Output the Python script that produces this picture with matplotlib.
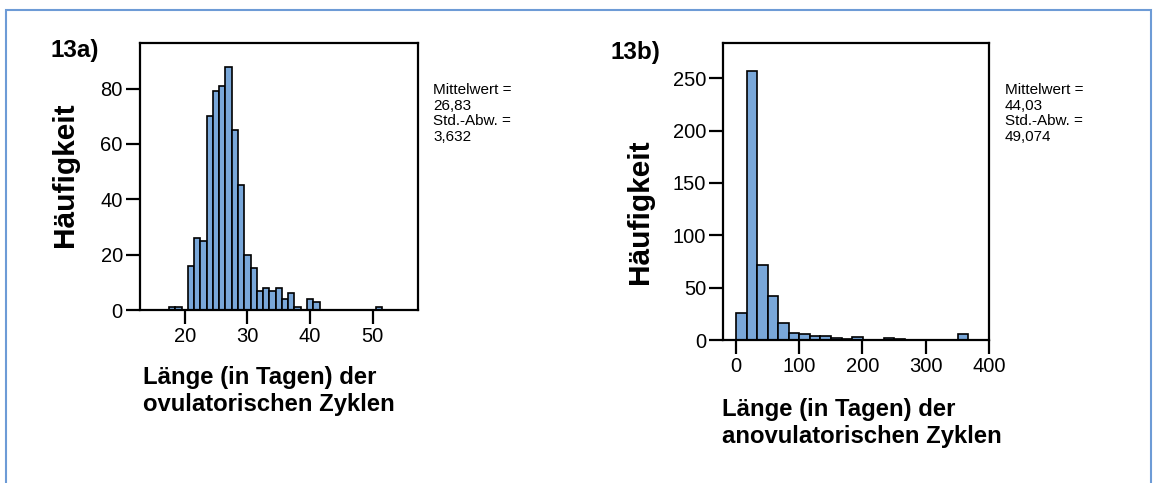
import matplotlib.pyplot as plt
from matplotlib.patches import Rectangle

plt.rcParams["font.family"] = ["Liberation Sans", "DejaVu Sans"]

# -----------------------------
# Data
# -----------------------------
# 13a) ovulatory cycles: one bar per day
ovu_days = [18, 19, 21, 22, 23, 24, 25, 26, 27, 28, 29, 30, 31, 32, 33, 34,
            35, 36, 37, 38, 40, 41, 51]
ovu_counts = [1, 1, 16, 26, 25, 70, 79, 81, 88, 65, 45, 20, 15, 7, 8, 7,
              8, 4, 6, 1, 4, 3, 1]

# 13b) anovulatory cycles: SPSS bins of about 16.7 days, starting at 0
anov_bin_start = 0.0
anov_bin_width = 16.7
anov_counts = [26, 257, 72, 42, 16, 7, 6, 4, 4, 2, 1, 3, 0, 0, 2, 1,
               0, 0, 0, 0, 0, 6]

ovu_xticks = [20, 30, 40, 50]
ovu_yticks = [0, 20, 40, 60, 80]
anov_xticks = [0, 100, 200, 300, 400]
anov_yticks = [0, 50, 100, 150, 200, 250]

ovu_stats = "Mittelwert =\n26,83\nStd.-Abw. =\n3,632"
anov_stats = "Mittelwert =\n44,03\nStd.-Abw. =\n49,074"

BAR_COLOR = "#79a7d9"
W, H = 1161, 483


def style_axes(ax):
    for spine in ax.spines.values():
        spine.set_linewidth(1.6)
    ax.tick_params(direction="out", length=10, width=1.6, labelsize=14.5, pad=2)


fig = plt.figure(figsize=(W / 100, H / 100), dpi=100)

# outer frame
fig.patches.append(Rectangle((6 / W, -0.05), (1151 - 6) / W, 1.05 - 10 / H,
                             transform=fig.transFigure, fill=False,
                             edgecolor="#6d9bd6", linewidth=1.5))

# -----------------------------
# 13a)
# -----------------------------
ax1 = fig.add_axes([139.5 / W, 1 - 310 / H, (418 - 139.5) / W, (310 - 43) / H])
ax1.bar(ovu_days, ovu_counts, width=1.0, color=BAR_COLOR,
        edgecolor="black", linewidth=1.2)
ax1.set_xlim(12.8, 57.2)
ax1.set_ylim(0, 96.5)
ax1.set_xticks(ovu_xticks)
ax1.set_yticks(ovu_yticks)
style_axes(ax1)

# -----------------------------
# 13b)
# -----------------------------
anov_edges = [anov_bin_start + i * anov_bin_width for i in range(len(anov_counts))]
ax2 = fig.add_axes([722.7 / W, 1 - 340 / H, (989 - 722.7) / W, (340 - 42.7) / H])
ax2.bar(anov_edges, anov_counts, width=anov_bin_width, align="edge",
        color=BAR_COLOR, edgecolor="black", linewidth=1.2)
ax2.set_xlim(-21, 400)
ax2.set_ylim(0, 284)
ax2.set_xticks(anov_xticks)
ax2.set_yticks(anov_yticks)
style_axes(ax2)

# -----------------------------
# Texts
# -----------------------------
fig.text(50 / W, 1 - 51 / H, "13a)", fontsize=17.5, fontweight="bold", va="center")
fig.text(610 / W, 1 - 52 / H, "13b)", fontsize=17.5, fontweight="bold", va="center")

fig.text(65 / W, 1 - 175 / H, "Häufigkeit", fontsize=21.5, fontweight="bold",
         rotation=90, ha="center", va="center")
fig.text(640 / W, 1 - 212 / H, "Häufigkeit", fontsize=21.5, fontweight="bold",
         rotation=90, ha="center", va="center")

fig.text(143 / W, 1 - 366 / H, "Länge (in Tagen) der\novulatorischen Zyklen",
         fontsize=17.2, fontweight="bold", va="top", linespacing=1.25)
fig.text(722 / W, 1 - 398 / H, "Länge (in Tagen) der\nanovulatorischen Zyklen",
         fontsize=17.2, fontweight="bold", va="top", linespacing=1.25)

fig.text(433 / W, 1 - 83 / H, ovu_stats, fontsize=11, va="top", linespacing=1.15)
fig.text(1005 / W, 1 - 83 / H, anov_stats, fontsize=11, va="top", linespacing=1.15)

fig.savefig("out.png", dpi=100)
